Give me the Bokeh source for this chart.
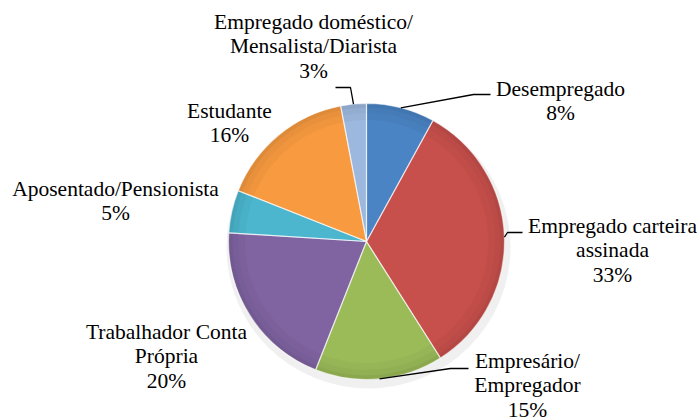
import math
from bokeh.plotting import figure
from bokeh.models import Range1d, ColumnDataSource
from bokeh.core.properties import value
from bokeh.embed import file_html
from bokeh.resources import INLINE

# ---- data ----
categories = [
    "Desempregado",
    "Empregado carteira\nassinada",
    "Empresário/\nEmpregador",
    "Trabalhador Conta\nPrópria",
    "Aposentado/Pensionista",
    "Estudante",
    "Empregado doméstico/\nMensalista/Diarista",
]
shares = [8, 33, 15, 20, 5, 16, 3]

# ---- style / layout ----
colors = ["#4A84C4", "#C8504C", "#9BBB59", "#8064A2", "#4BB6CE", "#F79A40", "#9DB8DE"]
W, H = 697, 420


def X(px):
    return px


def Y(py):
    return H - py


cx, cy, R = X(366), Y(241), 138
LINE = 24.5
FONT = "Liberation Serif"
FSIZE = "21.5px"

# label anchor (center x, first line center y) in page pixels
label_pos = [(560, 88), (612, 225), (527, 360), (166, 331), (115, 188), (229, 110), (313, 21)]
# leader lines: elbow and end points in page pixels (None = no leader)
leaders = [
    [(473, 94), (490, 94)],
    [(507, 232), (522, 232)],
    [(450, 368), (468, 368)],
    None,
    None,
    None,
    [(350, 87), (335, 87)],
]

p = figure(width=W, height=H, output_backend="svg", toolbar_location=None,
           x_range=Range1d(0, W), y_range=Range1d(0, H), min_border=0,
           x_axis_location=None, y_axis_location=None)
p.grid.visible = False
p.outline_line_color = None
p.background_fill_color = "white"
p.border_fill_color = "white"

total = float(sum(shares))
starts, ends, mids = [], [], []
cum = 0.0
for v in shares:
    a0 = math.pi / 2 - 2 * math.pi * cum / total
    cum += v
    a1 = math.pi / 2 - 2 * math.pi * cum / total
    starts.append(a0)
    ends.append(a1)
    mids.append((a0 + a1) / 2)

src = ColumnDataSource(dict(x=[cx] * len(shares), y=[cy] * len(shares),
                            start=starts, end=ends, color=colors))

# soft shadow
p.ellipse(x=cx + 2, y=cy - 6, width=2 * R + 8, height=2 * R + 6,
          fill_color="#000000", fill_alpha=0.06, line_color=None)

p.wedge(x="x", y="y", radius=R, start_angle="start", end_angle="end",
        direction="clock", fill_color="color", line_color=None, source=src)
# gradual bevel darkening near the rim
for r0, r1, a in [(0.88, 0.93, 0.03), (0.93, 0.97, 0.06), (0.97, 1.0, 0.10)]:
    p.annular_wedge(x="x", y="y", inner_radius=R * r0, outer_radius=R * r1,
                    start_angle="start", end_angle="end", direction="clock",
                    fill_color="#000000", fill_alpha=a, line_color=None, source=src)
# light slice separators
p.wedge(x="x", y="y", radius=R, start_angle="start", end_angle="end",
        direction="clock", fill_color=None, line_color="white",
        line_alpha=0.55, line_width=1.2, source=src)

# leader lines
for i, ld in enumerate(leaders):
    if ld is None:
        continue
    xs = [cx + R * math.cos(mids[i])] + [X(q[0]) for q in ld]
    ys = [cy + R * math.sin(mids[i])] + [Y(q[1]) for q in ld]
    p.line(xs, ys, line_color="black", line_width=1.3)

# labels
tx, ty, tt = [], [], []
for i, name in enumerate(categories):
    lines = name.split("\n") + [f"{shares[i]}%"]
    lx, ly = label_pos[i]
    for k, s in enumerate(lines):
        tx.append(X(lx))
        ty.append(Y(ly + k * LINE))
        tt.append(s)
p.text(x=tx, y=ty, text=tt, text_align="center", text_baseline="middle",
       text_font=value(FONT), text_font_size=FSIZE, text_color="black")

open("out.html", "w").write(file_html(p, INLINE))
